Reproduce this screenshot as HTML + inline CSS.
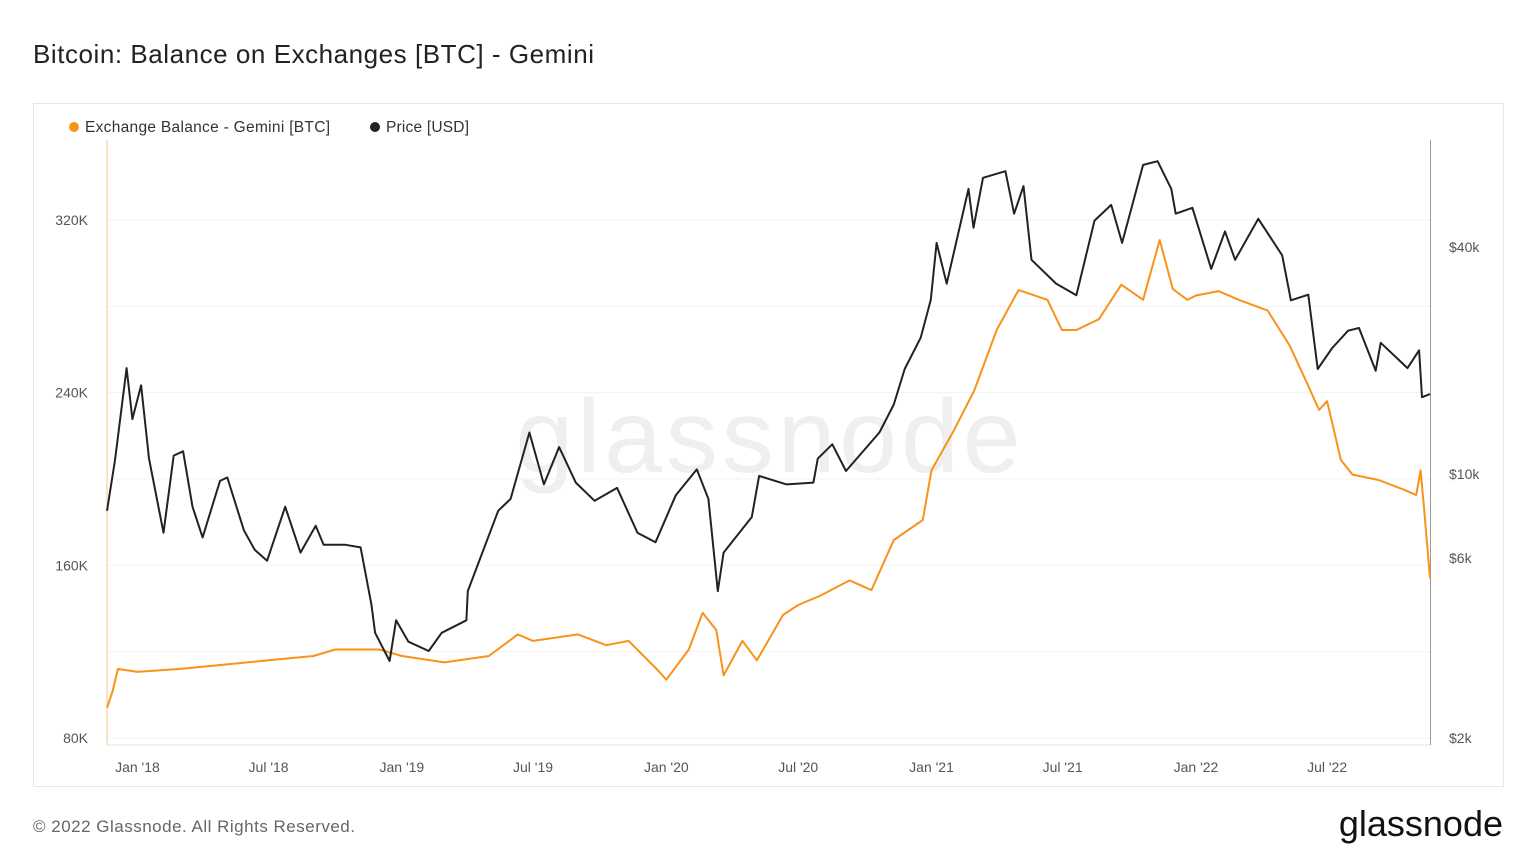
<!DOCTYPE html>
<html><head><meta charset="utf-8">
<style>
html,body{margin:0;padding:0;background:#fff;width:1536px;height:864px;overflow:hidden;font-family:"Liberation Sans",sans-serif;}
</style></head>
<body>
<svg id="chart" width="1536" height="864" xmlns="http://www.w3.org/2000/svg">
<text x="33" y="63" font-size="26" fill="#222" textLength="561">Bitcoin: Balance on Exchanges [BTC] - Gemini</text>
<rect x="33.5" y="103.5" width="1470" height="683" fill="none" stroke="#e6e6e6"/>
<g>
<circle cx="74" cy="127" r="5" fill="#f7931a"/>
<text x="85" y="132" font-size="15.5" fill="#333" textLength="245">Exchange Balance - Gemini [BTC]</text>
<circle cx="375" cy="127" r="5" fill="#222"/>
<text x="386" y="132" font-size="15.5" fill="#333" textLength="83">Price [USD]</text>
</g>
<text x="768" y="472" font-size="104" fill="#efefef" text-anchor="middle" textLength="505">glassnode</text>
<g id="grid"></g>
<g id="axes"></g>
<g id="series"></g>
<text x="33" y="832" font-size="17" fill="#666" textLength="322">© 2022 Glassnode. All Rights Reserved.</text>
<text x="1503" y="836" font-size="36" fill="#111" text-anchor="end">glassnode</text>
</svg>
<script>
const leftTicks=[80,160,240,320];
const rightTicks=[2000,6000,10000,40000];
const rightTickLabels=["$2k","$6k","$10k","$40k"];
const xTickDates=["2018-01-01","2018-07-01","2019-01-01","2019-07-01","2020-01-01","2020-07-01","2021-01-01","2021-07-01","2022-01-01","2022-07-01"];
const xTickLabels=["Jan '18","Jul '18","Jan '19","Jul '19","Jan '20","Jul '20","Jan '21","Jul '21","Jan '22","Jul '22"];
const balDates=["2017-11-20","2017-11-28","2017-12-05","2018-01-01","2018-03-01","2018-05-01","2018-07-01","2018-09-01","2018-10-01","2018-12-01","2019-01-01","2019-03-01","2019-05-01","2019-06-10","2019-07-01","2019-09-01","2019-10-10","2019-11-10","2019-12-20","2020-01-01","2020-02-01","2020-02-20","2020-03-10","2020-03-20","2020-04-15","2020-05-05","2020-06-10","2020-07-01","2020-08-01","2020-09-10","2020-10-10","2020-11-10","2020-12-20","2021-01-01","2021-02-01","2021-03-01","2021-04-01","2021-05-01","2021-06-10","2021-06-30","2021-07-20","2021-08-20","2021-09-20","2021-10-20","2021-11-12","2021-11-30","2021-12-20","2022-01-01","2022-02-01","2022-03-01","2022-04-10","2022-05-10","2022-06-01","2022-06-20","2022-07-01","2022-07-20","2022-08-05","2022-09-10","2022-10-15","2022-11-01","2022-11-07","2022-11-12","2022-11-20"];
const balValues=[94,102,112,110.6,112,114,116,118,121,121,118,115,118,128,125,128,123,125,111.5,107,121,138,130,109,125,116,137,141.6,146,153,148.5,171.7,181,204,222.6,241,269,287.5,283,269,269,274,290,283,310.7,288,283,285,287,283,278,262,246,232,236,208.8,202,199.5,195,192.5,204,185.6,154];
const priceDates=["2017-11-20","2017-12-01","2017-12-17","2017-12-25","2018-01-06","2018-01-17","2018-02-06","2018-02-20","2018-03-05","2018-03-18","2018-04-01","2018-04-25","2018-05-05","2018-05-28","2018-06-12","2018-06-29","2018-07-24","2018-08-14","2018-09-04","2018-09-15","2018-10-15","2018-11-05","2018-11-20","2018-11-25","2018-12-15","2018-12-24","2019-01-10","2019-02-07","2019-02-25","2019-03-31","2019-04-02","2019-05-14","2019-05-31","2019-06-26","2019-07-16","2019-08-06","2019-08-29","2019-09-24","2019-10-25","2019-11-22","2019-12-17","2020-01-14","2020-02-12","2020-02-28","2020-03-12","2020-03-20","2020-04-28","2020-05-08","2020-06-15","2020-07-22","2020-07-28","2020-08-17","2020-09-05","2020-10-21","2020-11-10","2020-11-25","2020-12-17","2020-12-31","2021-01-08","2021-01-22","2021-02-21","2021-02-28","2021-03-13","2021-04-13","2021-04-25","2021-05-08","2021-05-19","2021-06-22","2021-07-20","2021-08-14","2021-09-06","2021-09-21","2021-10-20","2021-11-09","2021-11-28","2021-12-04","2021-12-27","2022-01-22","2022-02-10","2022-02-24","2022-03-28","2022-04-30","2022-05-12","2022-06-05","2022-06-18","2022-07-08","2022-07-30","2022-08-14","2022-09-06","2022-09-13","2022-10-20","2022-11-05","2022-11-09","2022-11-20"];
const priceValues=[8000,10900,19100,14000,17200,11000,7000,11200,11500,8200,6800,9600,9800,7100,6300,5900,8200,6200,7300,6500,6500,6400,4500,3800,3200,4100,3600,3400,3800,4100,4900,8000,8600,12900,9400,11800,9500,8500,9200,7000,6600,8800,10300,8600,4900,6200,7700,9900,9400,9500,11000,12000,10200,12900,15300,19000,23000,29000,41000,32000,57000,45000,61000,63500,49000,58000,37000,32000,29800,47000,51700,41000,66000,67500,57000,49000,50800,35000,44000,37000,47500,38000,28900,29900,19000,21600,24000,24400,18800,22300,19100,21300,16000,16300];

const NS="http://www.w3.org/2000/svg";
const X0=107,X1=1430,Y0=140,Y1=745;
const t0=Date.parse("2017-11-20"),t1=Date.parse("2022-11-20");
const xScale=d=>X0+(Date.parse(d)-t0)/(t1-t0)*(X1-X0);
const yLeft=v=>738-(v-80)*(172.7/80);
const yRight=v=>738-(Math.log10(v)-Math.log10(2000))*377.4;
function mk(tag,attrs,parent){const e=document.createElementNS(NS,tag);for(const k in attrs)e.setAttribute(k,attrs[k]);parent.appendChild(e);return e;}
const grid=document.getElementById('grid'),axes=document.getElementById('axes'),series=document.getElementById('series');
[80,120,160,200,240,280,320].forEach(v=>{const l=mk('line',{x1:X0,x2:X1,y1:yLeft(v),y2:yLeft(v),stroke:'#f3f3f3'},grid);

});
leftTicks.forEach(v=>{const t=mk('text',{x:88,y:yLeft(v)+5,'font-size':14,fill:'#555','text-anchor':'end'},axes);t.textContent=v+'K';

});
rightTicks.forEach((v,i)=>{const t=mk('text',{x:1449,y:yRight(v)+5,'font-size':14,fill:'#555'},axes);t.textContent=rightTickLabels[i];

});
xTickDates.forEach((d,i)=>{const t=mk('text',{x:xScale(d),y:772,'font-size':14,fill:'#555','text-anchor':'middle'},axes);t.textContent=xTickLabels[i];

});
const la=mk('line',{x1:X0,x2:X0,y1:Y0,y2:Y1,stroke:'#fbd9b0','stroke-width':1.5},axes);


const ra=mk('line',{x1:X1+0.5,x2:X1+0.5,y1:Y0,y2:Y1,stroke:'#999','stroke-width':1},axes);


const bx=mk('line',{x1:X0,x2:X1,y1:Y1,y2:Y1,stroke:'#e6e6e6'},axes);


const bp=mk('path',{d:balDates.map((d,i)=>(i?'L':'M')+xScale(d).toFixed(1)+','+yLeft(balValues[i]).toFixed(1)).join(''),fill:'none',stroke:'#f7931a','stroke-width':2,'stroke-linejoin':'round'},series);


const pp=mk('path',{d:priceDates.map((d,i)=>(i?'L':'M')+xScale(d).toFixed(1)+','+yRight(priceValues[i]).toFixed(1)).join(''),fill:'none',stroke:'#222','stroke-width':2,'stroke-linejoin':'round'},series);


</script>
</body></html>
